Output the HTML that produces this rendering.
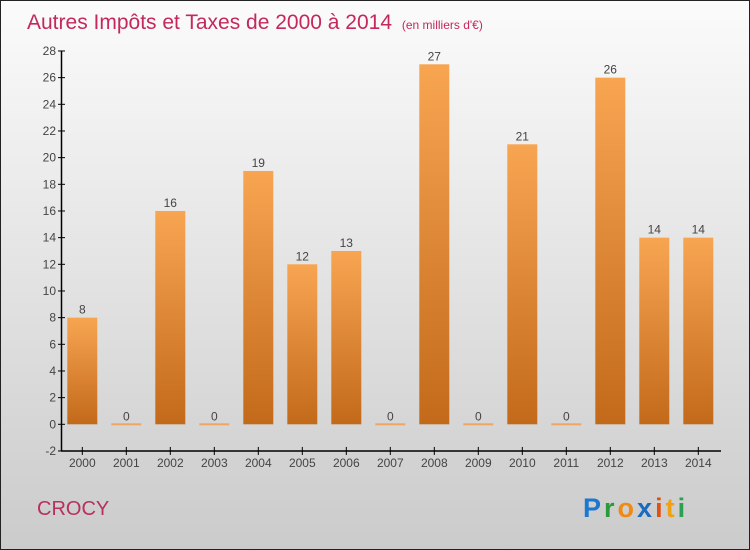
<!DOCTYPE html>
<html><head><meta charset="utf-8"><style>
body{margin:0}
#c{width:748px;height:548px;border:1px solid #222;background:linear-gradient(#fbfbfb,#cbcbcb);position:relative;overflow:hidden;font-family:"Liberation Sans",sans-serif}
</style></head><body>
<div id="c">
<svg id="s" width="748" height="548" style="position:absolute;left:0;top:0">
<defs><linearGradient id="g" x1="0" y1="0" x2="0" y2="1"><stop offset="0" stop-color="#f8a552"/><stop offset="1" stop-color="#c26a1a"/></linearGradient></defs>
<text x="26" y="28" font-size="21" fill="#c4285c">Autres Impôts et Taxes de 2000 à 2014 <tspan font-size="12" dx="4">(en milliers d'€)</tspan></text>
<text x="36" y="514" font-size="20" fill="#b8305e">CROCY</text>
<text x="582" y="516" font-size="27" font-weight="bold" letter-spacing="3"><tspan fill="#1a78d0">P</tspan><tspan fill="#2a9a3a">r</tspan><tspan fill="#f08a10">o</tspan><tspan fill="#1a6ac0">x</tspan><tspan fill="#e05010">i</tspan><tspan fill="#f0a010">t</tspan><tspan fill="#2aa050">i</tspan></text>
<g id="plot"></g>
</svg>
</div>
<script>
const years=["2000","2001","2002","2003","2004","2005","2006","2007","2008","2009","2010","2011","2012","2013","2014"];
const values=[8,0,16,0,19,12,13,0,27,0,21,0,26,14,14];
const yTicks=[-2,0,2,4,6,8,10,12,14,16,18,20,22,24,26,28];
const NS="http://www.w3.org/2000/svg",p=document.getElementById('plot');
const y=v=>423.3-(v)*13.333, x=i=>81.3+i*44;
function el(t,a,parent){const e=document.createElementNS(NS,t);for(const k in a)e.setAttribute(k,a[k]);(parent||p).appendChild(e);return e;}
let ax=el('line',{x1:60.5,y1:y(28),x2:60.5,y2:y(-2),stroke:'#000','stroke-width':1.5});


let bx=el('line',{x1:60,y1:y(-2),x2:720,y2:y(-2),stroke:'#000','stroke-width':1.5});


yTicks.forEach(v=>{
 el('line',{x1:57,x2:64,y1:y(v),y2:y(v),stroke:'#000'});
 const t=el('text',{x:55,y:y(v)+4,'text-anchor':'end','font-size':12,fill:'#444'});t.textContent=v;
 
 
});
years.forEach((yr,i)=>{
 const v=values[i],cx=x(i);
 el('line',{x1:cx,x2:cx,y1:y(-2)-4,y2:y(-2)+4,stroke:'#000'});
 const t=el('text',{x:cx,y:y(-2)+16,'text-anchor':'middle','font-size':12,fill:'#444'});t.textContent=yr;
 
 
 const h=Math.max(y(0)-y(v),2);
 const r=el('rect',{x:cx-15,y:y(0)-h+ (v?0:1),width:30,height:h,fill:v?'url(#g)':'#f0a560'});
 
 
 const l=el('text',{x:cx,y:y(v)-4,'text-anchor':'middle','font-size':12,fill:'#444'});l.textContent=v;
 
 
});
</script>
</body></html>
